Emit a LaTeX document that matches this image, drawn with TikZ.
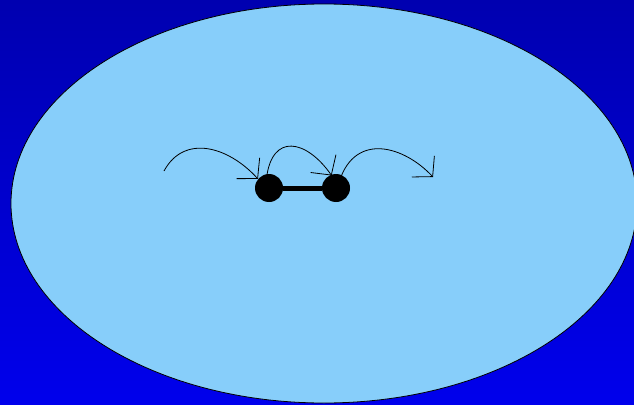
\documentclass[tikz,border=0pt]{standalone}
\usetikzlibrary{arrows.meta}
\definecolor{skytop}{RGB}{0,0,176}
\definecolor{skybottom}{RGB}{0,0,236}
\definecolor{cell}{RGB}{135,206,250}
\begin{document}
\begin{tikzpicture}[x=1pt, y=-1pt,
    atom/.style={circle, fill=black, minimum size=28pt, inner sep=0pt},
    hop/.style={-{Straight Barb[length=14pt,width=31pt]}, line width=0.8pt}]
    \useasboundingbox (0,0) rectangle (634,404);
    \clip (0,0) rectangle (634,404);
    \shade[top color=skytop, bottom color=skybottom] (0,0) rectangle (634,404);
    \draw[fill=cell, line width=0.8pt] (324,203.5) ellipse [x radius=313, y radius=199.5];
    % the pair
    \node[atom] (a) at (269,188) {};
    \node[atom] (b) at (336,188) {};
    \draw[line width=5pt] (a) -- (b);
    \coordinate (from) at (164,171);
    \coordinate (to) at (433,177);
    % jumps
    \draw[hop] (from) .. controls (184,134) and (228,146) .. ([shift={(-1pt,-1pt)}]a.135);
    \draw[hop] ([yshift=-4pt]a.100) .. controls (272,133) and (306,139) .. ([yshift=-1pt]b.108);
    \draw[hop] ([yshift=-6pt]b.75) .. controls (356,132) and (404,146) .. (to);
\end{tikzpicture}
\end{document}
